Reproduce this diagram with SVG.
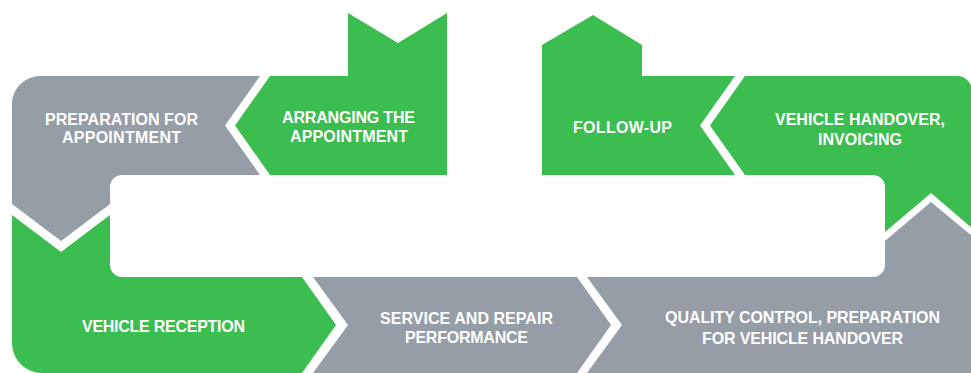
<svg xmlns="http://www.w3.org/2000/svg" width="971" height="373" viewBox="0 0 971 373">
  <style>
    .green { fill: #3bbd4f; }
    .gray { fill: #959da7; }
    .label { fill: #ffffff; font-family: "Liberation Sans", Arial, sans-serif; font-weight: bold; font-size: 16px; text-anchor: middle; }
  </style>
  <rect x="0" y="0" width="971" height="373" fill="#ffffff"/>

  <!-- top arm, left: preparation (L-shaped, arrow pointing down) -->
  <g id="preparation">
    <path class="gray" d="M 12,104 A 28 28 0 0 1 40,76 L 260,76 L 225,125.5 L 260,175 L 122,175 A 12 12 0 0 0 110,187 L 110,204 L 61,241 L 12,204 Z"/>
    <text class="label" x="121.5" y="125" textLength="153">PREPARATION FOR</text>
    <text class="label" x="121.5" y="143" textLength="119">APPOINTMENT</text>
  </g>

  <!-- arranging the appointment (arrow pointing left, notch on top) -->
  <g id="arranging">
    <path class="green" d="M 270,76 L 348,76 L 348,13 L 398,43 L 447,13 L 447,175 L 270,175 L 235,125.5 Z"/>
    <text class="label" x="348.5" y="123" textLength="133">ARRANGING THE</text>
    <text class="label" x="349" y="142" textLength="118">APPOINTMENT</text>
  </g>

  <!-- follow-up (arrow pointing up, notch on the right) -->
  <g id="follow-up">
    <path class="green" d="M 542,45 L 593,15 L 642,45 L 642,76 L 735,76 L 700,125.5 L 735,175 L 542,175 Z"/>
    <text class="label" x="622.5" y="133" textLength="99">FOLLOW-UP</text>
  </g>

  <!-- vehicle handover, invoicing (L-shaped, arrow pointing left) -->
  <g id="handover">
    <path class="green" d="M 745,76 L 957,76 A 15 15 0 0 1 972,91 L 972,228 L 931,193 L 885,232 L 885,187 A 12 12 0 0 0 873,175 L 745,175 L 710,125.5 Z"/>
    <text class="label" x="860" y="125" textLength="170">VEHICLE HANDOVER,</text>
    <text class="label" x="860" y="145" textLength="84">INVOICING</text>
  </g>

  <!-- vehicle reception (L-shaped, arrow pointing right) -->
  <g id="reception">
    <path class="green" d="M 12,215 L 61,252 L 110,215 L 110,265 A 12 12 0 0 0 122,277 L 302,277 L 336,325 L 302,373 L 42,373 A 30 30 0 0 1 12,343 Z"/>
    <text class="label" x="163.5" y="332" textLength="163">VEHICLE RECEPTION</text>
  </g>

  <!-- service and repair performance -->
  <g id="service">
    <path class="gray" d="M 313,277 L 577,277 L 611,325 L 577,373 L 313,373 L 348,325 Z"/>
    <text class="label" x="466.5" y="324" textLength="173">SERVICE AND REPAIR</text>
    <text class="label" x="466.5" y="343" textLength="123">PERFORMANCE</text>
  </g>

  <!-- quality control (L-shaped, arrow pointing up) -->
  <g id="quality">
    <path class="gray" d="M 587,277 L 873,277 A 12 12 0 0 0 885,265 L 885,241 L 931,202 L 972,236 L 972,373 L 587,373 L 622,325 Z"/>
    <text class="label" x="802.5" y="323" textLength="275">QUALITY CONTROL, PREPARATION</text>
    <text class="label" x="802.5" y="344" textLength="201">FOR VEHICLE HANDOVER</text>
  </g>
</svg>
